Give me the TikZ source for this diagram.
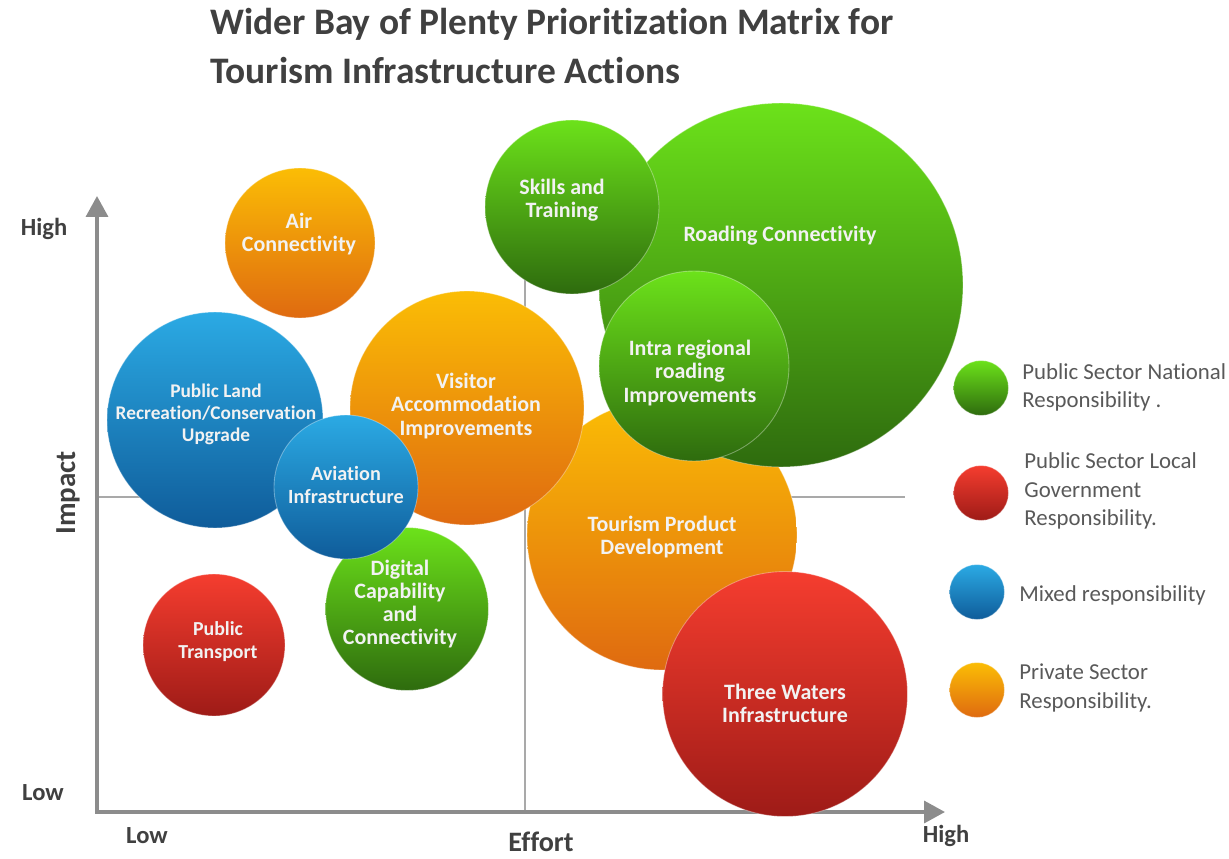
\documentclass[tikz,border=0pt]{standalone}
\usepackage{fontspec}
\setmainfont{Carlito}[Ligatures=NoCommon]
\usetikzlibrary{arrows.meta}
\definecolor{nattop}{HTML}{6CE21A}
\definecolor{natbot}{HTML}{2E6B0E}
\definecolor{loctop}{HTML}{F53D2F}
\definecolor{locbot}{HTML}{9E1B17}
\definecolor{mixtop}{HTML}{2BAAE4}
\definecolor{mixbot}{HTML}{0F5C9A}
\definecolor{pritop}{HTML}{FBBD05}
\definecolor{pribot}{HTML}{DF6A10}
\definecolor{axisgray}{HTML}{8C8C8C}
\definecolor{titlegray}{HTML}{404040}
\definecolor{legendgray}{HTML}{595959}
\definecolor{bubbletext}{HTML}{F2F2F2}

\begin{document}
\begin{tikzpicture}[x=0.02cm,y=-0.02cm]
	\tikzstyle{bubble} = [circle,inner sep=0pt,draw=white,draw opacity=0.35,line width=0.5pt]
	\tikzstyle{national} = [bubble,top color=nattop,bottom color=natbot]
	\tikzstyle{local} = [bubble,top color=loctop,bottom color=locbot]
	\tikzstyle{mixed} = [bubble,top color=mixtop,bottom color=mixbot]
	\tikzstyle{private} = [bubble,top color=pritop,bottom color=pribot]
	\tikzstyle{btext} = [text=bubbletext,font=\bfseries\fontsize{12.5}{13.2}\selectfont,align=center,inner sep=0pt]
	\tikzstyle{ltext} = [text=legendgray,font=\fontsize{13}{16}\selectfont,align=left,anchor=west,inner sep=0pt]
	\tikzstyle{axlabel} = [text=titlegray,font=\bfseries\fontsize{14}{16}\selectfont,inner sep=0pt]
	\tikzstyle{axis} = [draw=axisgray,line width=2pt,{Triangle[length=0.42cm,width=0.44cm]}-{Triangle[length=0.42cm,width=0.44cm]}]
	\tikzstyle{quad} = [draw=axisgray!75,line width=1pt]
	\useasboundingbox (0,0) rectangle (1229,858);

	\node[anchor=west,align=left,inner sep=0pt,text=titlegray,font=\bfseries\fontsize{21.3}{27.5}\selectfont] (title) at (210,46) {Wider Bay of Plenty Prioritization Matrix for\\Tourism Infrastructure Actions};

	\coordinate (o) at (97,812);
	\coordinate (ytip) at (97,196);
	\coordinate (xtip) at (945,812);
	\coordinate (vq1) at (525,268);
	\coordinate (vq2) at (525,812);
	\coordinate (hq1) at (97,497);
	\coordinate (hq2) at (905,497);
	\draw[quad] (vq1)--(vq2);
	\draw[quad] (hq1)--(hq2);
	\draw[axis] (ytip)--(o)--(xtip);

	\node[axlabel] (yhigh) at (44,229) {High};
	\node[axlabel] (ylow) at (43,793) {Low};
	\node[axlabel] (xlow) at (147,836) {Low};
	\node[axlabel] (xhigh) at (946,836) {High};
	\node[axlabel,rotate=90,font=\bfseries\fontsize{16.5}{18}\selectfont] (impact) at (68,493) {Impact};
	\node[axlabel,font=\bfseries\fontsize{16}{18}\selectfont] (effort) at (541,842) {Effort};

	\node[private,minimum size=5.40cm] (tourism) at (662,535) {};
	\node[national,minimum size=7.28cm] (roading) at (781,285) {};
	\node[national,minimum size=3.80cm] (intra) at (694,366) {};
	\node[national,minimum size=3.48cm] (skills) at (572,207) {};
	\node[private,minimum size=3.00cm] (air) at (300,243) {};
	\node[mixed,minimum size=4.32cm] (publand) at (215,420) {};
	\node[private,minimum size=4.68cm] (visitor) at (467,408) {};
	\node[national,minimum size=3.26cm] (digital) at (407,609) {};
	\node[mixed,minimum size=2.88cm] (aviation) at (346,487) {};
	\node[local,minimum size=2.84cm] (transport) at (214,645) {};
	\node[local,minimum size=4.90cm] (waters) at (785,694) {};

	\node[btext] (tourismtxt) at (662,537) {Tourism Product\\Development};
	\node[btext] (roadingtxt) at (780,236) {Roading Connectivity};
	\node[btext] (intratxt) at (690,373) {Intra regional\\roading\\Improvements};
	\node[btext] (skillstxt) at (562,200) {Skills and\\Training};
	\node[btext] (airtxt) at (299,234) {Air\\Connectivity};
	\node[btext,font=\bfseries\fontsize{11}{12.5}\selectfont] (publandtxt) at (216,414) {Public Land\\Recreation/Conservation\\Upgrade};
	\node[btext] (visitortxt) at (466,406) {Visitor\\Accommodation\\Improvements};
	\node[btext] (digitaltxt) at (400,604) {Digital\\Capability\\and\\Connectivity};
	\node[btext,font=\bfseries\fontsize{11.5}{13}\selectfont] (aviationtxt) at (346,485) {Aviation\\Infrastructure};
	\node[btext,font=\bfseries\fontsize{11.3}{13}\selectfont] (transporttxt) at (218,642) {Public\\Transport};
	\node[btext] (waterstxt) at (785,703) {Three Waters\\Infrastructure};

	\node[national,minimum size=1.1cm] (l1) at (981,388) {};
	\node[ltext] (l1t) at (1022,387) {Public Sector National\\Responsibility .};
	\node[local,minimum size=1.1cm] (l2) at (981,493) {};
	\node[ltext] (l2t) at (1024,491) {Public Sector Local\\Government\\Responsibility.};
	\node[mixed,minimum size=1.1cm] (l3) at (977,592) {};
	\node[ltext] (l3t) at (1019,595) {Mixed responsibility};
	\node[private,minimum size=1.1cm] (l4) at (977,690) {};
	\node[ltext] (l4t) at (1019,688) {Private Sector\\Responsibility.};
\end{tikzpicture}
\end{document}
